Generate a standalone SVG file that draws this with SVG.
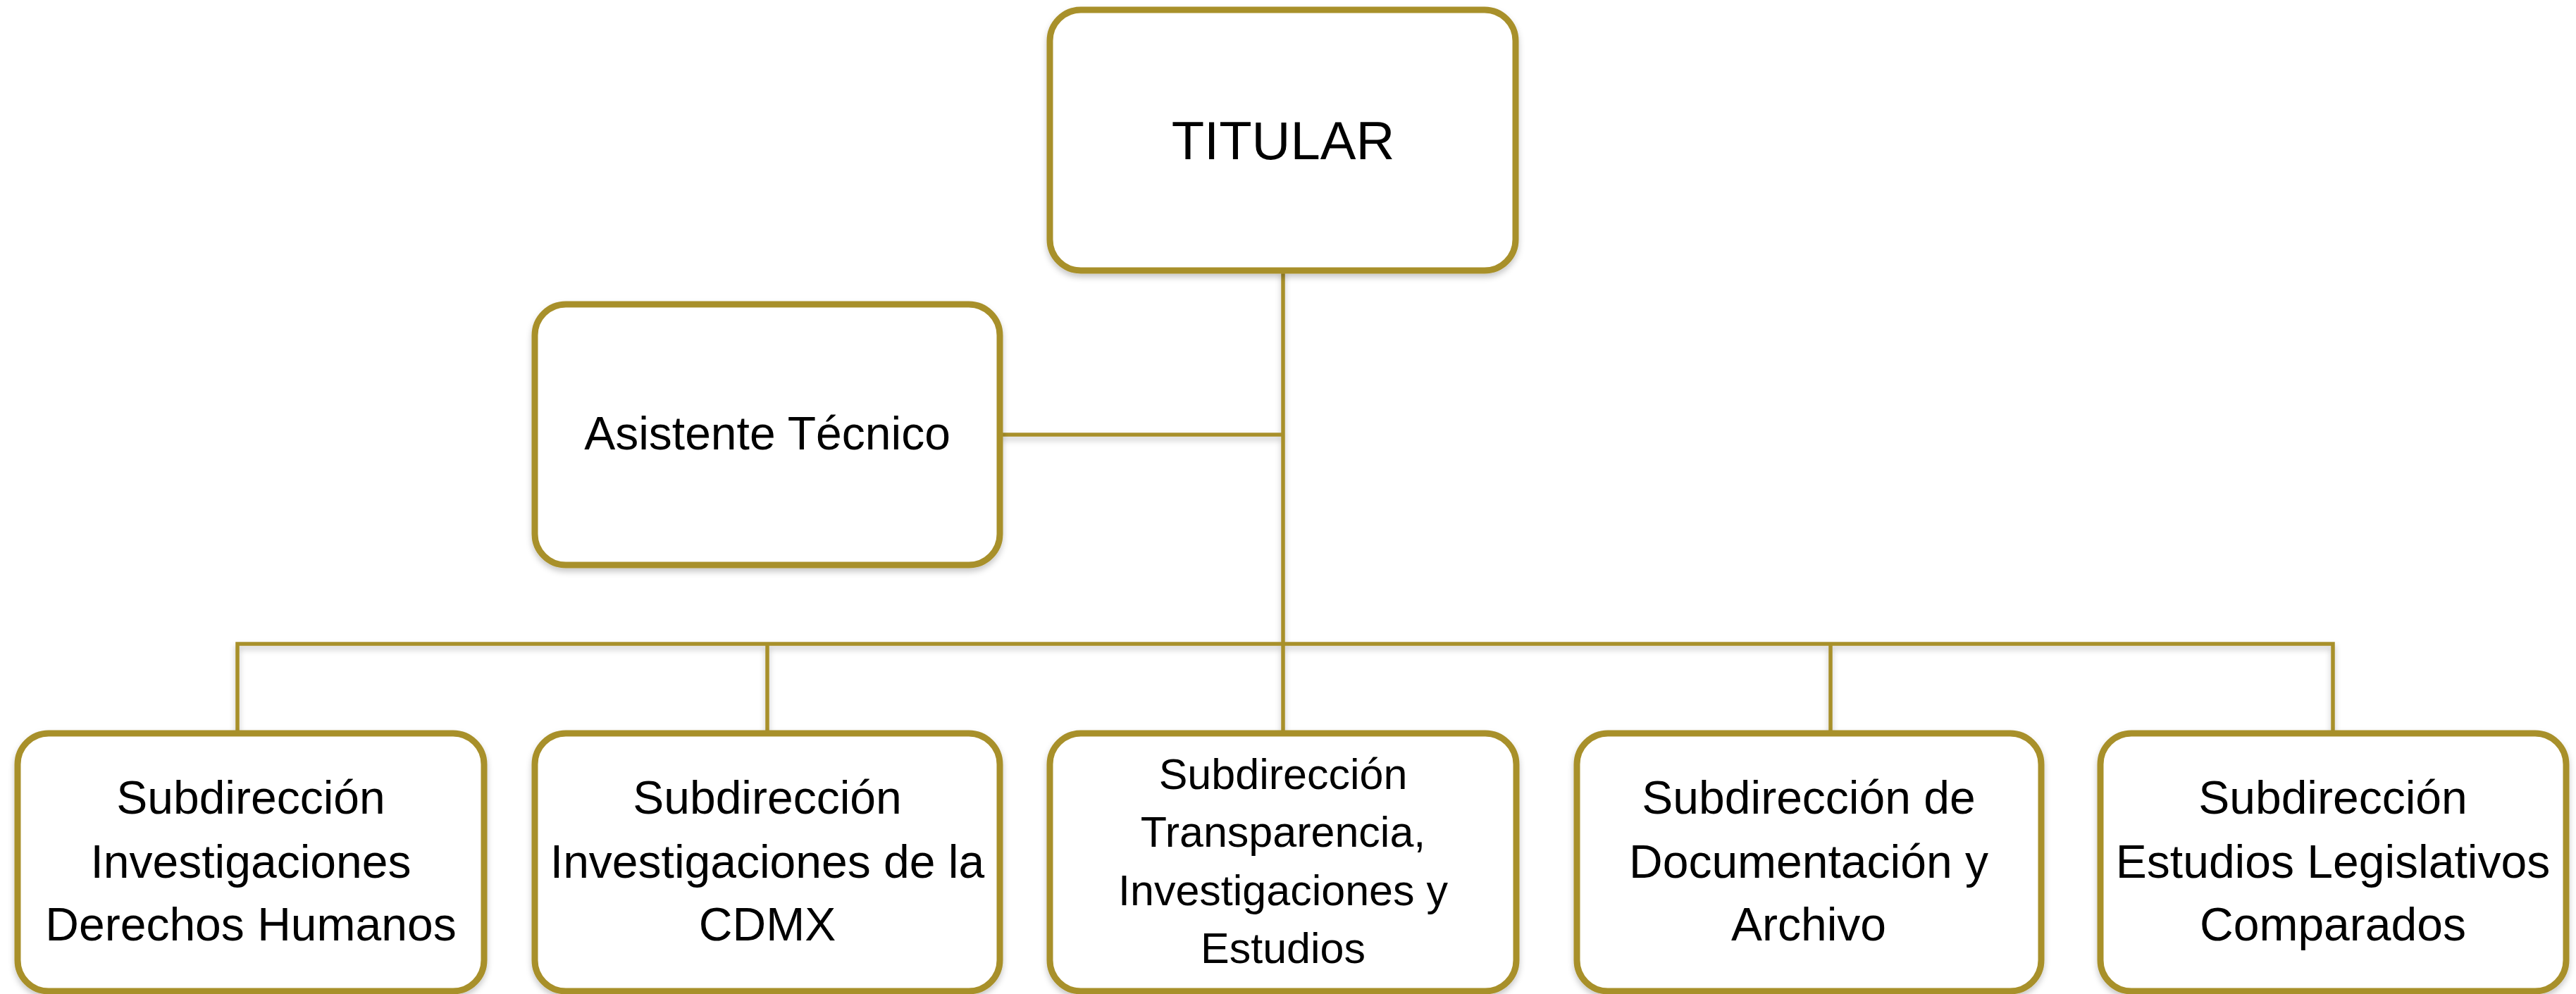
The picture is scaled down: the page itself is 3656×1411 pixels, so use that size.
<svg xmlns="http://www.w3.org/2000/svg" width="3656" height="1411" viewBox="0 0 3656 1411">
<defs>
<filter id="sh" x="-5%" y="-5%" width="110%" height="115%">
<feDropShadow dx="0" dy="5" stdDeviation="4" flood-color="#000" flood-opacity="0.22"/>
</filter>
<style>
.box{fill:#fff;stroke:#A8902C;stroke-width:9}
.ln{fill:none;stroke:#A8902C;stroke-width:5.5}
text{font-family:"Liberation Sans",Arial,sans-serif;fill:#000;text-anchor:middle}
.t{font-size:66px}
.s{font-size:61px}
.big{font-size:76px}
</style>
</defs>
<rect width="3656" height="1411" fill="#fff"/>
<g id="connectors" filter="url(#sh)">
<path class="ln" d="M1821 384 V1041"/>
<path class="ln" d="M1419 617 H1821"/>
<path class="ln" d="M337 1041 V914 H3311 V1041"/>
<path class="ln" d="M1089 914 V1041"/>
<path class="ln" d="M2598 914 V1041"/>
</g>
<g id="titular" filter="url(#sh)">
<rect class="box" x="1490" y="14" width="661" height="370" rx="44"/>
<text class="big" x="1821" y="226">TITULAR</text>
</g>
<g id="asistente" filter="url(#sh)">
<rect class="box" x="759" y="432" width="660" height="370" rx="44"/>
<text class="t" x="1089" y="638">Asistente Técnico</text>
</g>
<g id="sub-ddhh" filter="url(#sh)">
<rect class="box" x="25" y="1041" width="662" height="366" rx="44"/>
<text class="t" x="356" y="1155">Subdirección</text>
<text class="t" x="356" y="1246">Investigaciones</text>
<text class="t" x="356" y="1335">Derechos Humanos</text>
</g>
<g id="sub-cdmx" filter="url(#sh)">
<rect class="box" x="759" y="1041" width="660" height="366" rx="44"/>
<text class="t" x="1089" y="1155">Subdirección</text>
<text class="t" x="1089" y="1246">Investigaciones de la</text>
<text class="t" x="1089" y="1335">CDMX</text>
</g>
<g id="sub-transparencia" filter="url(#sh)">
<rect class="box" x="1490" y="1041" width="662" height="366" rx="44"/>
<text class="s" x="1821" y="1120">Subdirección</text>
<text class="s" x="1821" y="1202">Transparencia,</text>
<text class="s" x="1821" y="1285">Investigaciones y</text>
<text class="s" x="1821" y="1367">Estudios</text>
</g>
<g id="sub-documentacion" filter="url(#sh)">
<rect class="box" x="2238" y="1041" width="659" height="366" rx="44"/>
<text class="t" x="2567" y="1155">Subdirección de</text>
<text class="t" x="2567" y="1246">Documentación y</text>
<text class="t" x="2567" y="1335">Archivo</text>
</g>
<g id="sub-legislativos" filter="url(#sh)">
<rect class="box" x="2981" y="1041" width="661" height="366" rx="44"/>
<text class="t" x="3311" y="1155">Subdirección</text>
<text class="t" x="3311" y="1246">Estudios Legislativos</text>
<text class="t" x="3311" y="1335">Comparados</text>
</g>
</svg>
